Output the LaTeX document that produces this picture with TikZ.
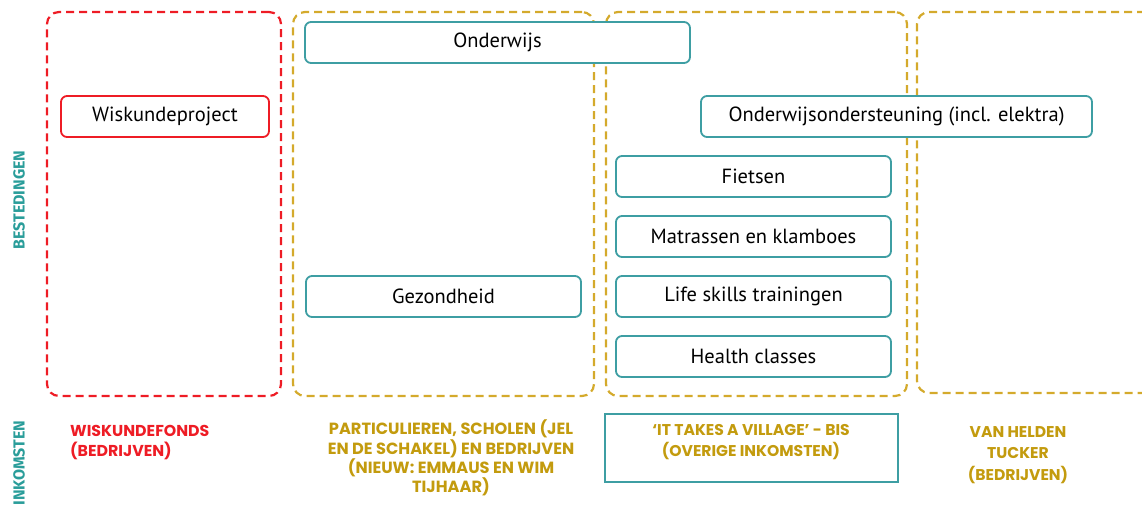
\documentclass[tikz,border=0pt]{standalone}
\usepackage{fontspec}
\setmainfont{PT Sans}
\newfontfamily\capsfont{Poppins}
\newfontfamily\sidefont{Fira Sans}
\definecolor{myred}{HTML}{EE1C25}
\definecolor{mygold}{HTML}{D4AA2C}
\definecolor{goldtext}{HTML}{C39B0E}
\definecolor{myteal}{HTML}{3E9EA3}
\definecolor{tealtext}{HTML}{2A9D9A}
\begin{document}
\begin{tikzpicture}[x=1pt,y=-1pt,
  container/.style={draw, line width=2.2pt, dash pattern=on 8pt off 5pt, rounded corners=12pt, inner sep=0pt},
  itembox/.style={draw=myteal, line width=1.8pt, rounded corners=6pt, fill=white, minimum height=41pt, inner sep=0pt, font=\fontsize{20.5}{22}\selectfont},
  inlabel/.style={inner sep=0pt},
  sidelabel/.style={font=\sidefont\bfseries\fontsize{16}{16}\selectfont, text=tealtext, rotate=90, inner sep=0pt}
]
\path[use as bounding box] (0,0) rectangle (1142,507);
\clip (0,0) rectangle (1142,507);

% containers
\node[container, draw=myred, minimum width=234pt, minimum height=384pt] (c1) at (164,204) {};
\node[container, draw=mygold, minimum width=301pt, minimum height=384pt] (c2) at (443.5,204) {};
\node[container, draw=mygold, minimum width=301pt, minimum height=384pt] (c3) at (756.5,204) {};
\node[container, draw=mygold, minimum width=253pt, minimum height=381pt] (c4) at (1043.5,202.5) {};

% expense boxes
\node[itembox, minimum width=385pt] (onderwijs) at (497.5,42.5) {Onderwijs};
\node[itembox, draw=myred, minimum width=208pt] (wisk) at (165,116.5) {Wiskundeproject};
\node[itembox, minimum width=391pt] (onderst) at (896.5,116.5) {Onderwijsondersteuning (incl. elektra)};
\node[itembox, minimum width=275pt] (fietsen) at (753.5,176.5) {Fietsen};
\node[itembox, minimum width=275pt] (matras) at (753.5,236.5) {Matrassen en klamboes};
\node[itembox, minimum width=275pt] (gezond) at (443.5,296.5) {Gezondheid};
\node[itembox, minimum width=275pt] (life) at (753.5,296.5) {Life skills trainingen};
\node[itembox, minimum width=275pt] (health) at (753.5,356.5) {Health classes};

% side labels
\node[sidelabel] (best) at (19,200) {BESTEDINGEN};
\node[sidelabel] (inkom) at (19,463) {INKOMSTEN};

% income labels
\node[inlabel, text=myred, align=left, anchor=north west, font=\capsfont\bfseries\fontsize{15.8}{20.5}\selectfont] (wfonds) at (70,425) {WISKUNDEFONDS\\(BEDRIJVEN)};
\node[inlabel, text=goldtext, align=center, font=\capsfont\bfseries\fontsize{16.2}{17}\selectfont] (part) at (451,458) {PARTICULIEREN, SCHOLEN (JEL\\EN DE SCHAKEL) EN BEDRIJVEN\\(NIEUW: EMMAUS EN WIM\\TIJHAAR)};
\node[draw=myteal, line width=1.2pt, minimum width=293pt, minimum height=68pt, inner sep=0pt] (villagebox) at (751.5,448) {};
\node[inlabel, text=goldtext, align=center, font=\capsfont\bfseries\fontsize{15.6}{21.5}\selectfont] (village) at (751,442) {‘IT TAKES A VILLAGE’ - BIS\\(OVERIGE INKOMSTEN)};
\node[inlabel, text=goldtext, align=center, font=\capsfont\bfseries\fontsize{15.6}{21.5}\selectfont] (helden) at (1018,455) {VAN HELDEN\\TUCKER\\(BEDRIJVEN)};
\end{tikzpicture}
\end{document}
